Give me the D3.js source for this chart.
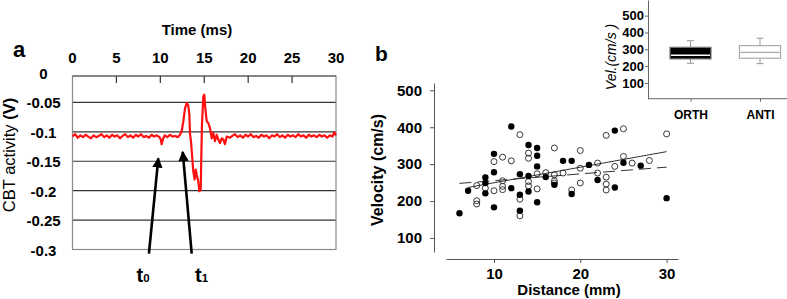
<!DOCTYPE html>
<html><head><meta charset="utf-8">
<script src="https://cdn.jsdelivr.net/npm/d3@7"></script>
<style>body{margin:0;background:#fff;} svg{display:block;font-family:Arial,"Liberation Sans",sans-serif;}</style>
</head><body><svg id="c" width="787" height="299"></svg>
<script>
// ---------- Panel a data ----------
const timeTicks = [0, 5, 10, 15, 20, 25, 30];
const voltTicks = [0, -0.05, -0.1, -0.15, -0.2, -0.25, -0.3];
const voltLabels = ["0", "-0.05", "-0.1", "-0.15", "-0.2", "-0.25", "-0.3"];
const trace = [
 [0.0,-0.108],[0.3,-0.104],[0.6,-0.110],[0.9,-0.106],[1.2,-0.109],[1.5,-0.105],[1.8,-0.108],[2.1,-0.111],
 [2.4,-0.106],[2.7,-0.109],[3.0,-0.107],[3.3,-0.104],[3.6,-0.109],[3.9,-0.106],[4.2,-0.110],[4.5,-0.105],
 [4.8,-0.108],[5.1,-0.106],[5.4,-0.111],[5.7,-0.107],[6.0,-0.104],[6.3,-0.109],[6.6,-0.106],[6.9,-0.110],
 [7.2,-0.105],[7.5,-0.108],[7.8,-0.104],[8.1,-0.109],[8.4,-0.107],[8.7,-0.110],[9.0,-0.105],[9.3,-0.108],
 [9.6,-0.106],[9.9,-0.109],[10.05,-0.113],[10.15,-0.121],[10.3,-0.112],[10.5,-0.106],[10.8,-0.109],
 [11.1,-0.105],[11.4,-0.108],[11.7,-0.107],[12.0,-0.109],[12.24,-0.105],[12.43,-0.099],[12.62,-0.082],
 [12.81,-0.060],[13.0,-0.051],[13.18,-0.055],[13.30,-0.070],[13.38,-0.104],[13.49,-0.116],[13.64,-0.145],
 [13.75,-0.167],[13.91,-0.181],[14.03,-0.164],[14.14,-0.173],[14.32,-0.184],[14.44,-0.201],[14.6,-0.198],
 [14.66,-0.145],[14.74,-0.088],[14.89,-0.040],[15.01,-0.037],[15.12,-0.060],[15.28,-0.082],[15.46,-0.085],
 [15.66,-0.094],[15.85,-0.111],[16.03,-0.102],[16.22,-0.116],[16.42,-0.105],[16.6,-0.113],[16.79,-0.119],
 [16.99,-0.111],[17.17,-0.113],[17.35,-0.121],[17.56,-0.108],[17.93,-0.110],[18.2,-0.107],[18.5,-0.104],
 [18.8,-0.109],[19.1,-0.106],[19.4,-0.110],[19.7,-0.105],[20.0,-0.108],[20.3,-0.104],[20.6,-0.109],
 [20.9,-0.107],[21.2,-0.110],[21.5,-0.105],[21.8,-0.108],[22.1,-0.106],[22.4,-0.111],[22.7,-0.106],
 [23.0,-0.108],[23.3,-0.104],[23.6,-0.109],[23.9,-0.106],[24.2,-0.110],[24.5,-0.105],[24.8,-0.108],
 [25.1,-0.106],[25.4,-0.109],[25.7,-0.104],[26.0,-0.108],[26.3,-0.106],[26.6,-0.110],[26.9,-0.105],
 [27.2,-0.108],[27.5,-0.106],[27.8,-0.109],[28.1,-0.105],[28.4,-0.108],[28.7,-0.106],[29.0,-0.110],
 [29.3,-0.106],[29.6,-0.108],[29.8,-0.101],[30.0,-0.106]
];
const arrowT0 = [[8.7, -0.307], [9.77, -0.145]];
const arrowT1 = [[13.57, -0.307], [12.55, -0.134]];

// ---------- Panel b data ----------
const distTicks = [10, 20, 30];
const velTicks = [100, 200, 300, 400, 500];
const filledDist = [6,7,9,9,9,10,10,10,12,12,13,13,13,14,14,14,15,15,15,15,16,17,18,19,19,21,22,24,25,24,27,30];
const filledVel  = [167,228,264,249,221,328,278,183,402,235,273,217,174,352,268,226,344,323,294,197,265,244,309,309,219,298,257,391,304,237,296,208];
const openDist = [8,8,8,9,10,10,11,11,11,11,12,13,13,13,14,14,14,14,15,15,16,17,17,17,17,18,19,20,20,20,22,22,23,23,23,23,24,25,25,26,28,30];
const openVel  = [242,201,192,235,307,228,319,255,240,231,309,380,205,160,330,316,253,241,274,233,277,344,271,255,249,276,230,337,289,249,303,276,378,265,246,230,294,396,321,303,310,382];
const fitSolid  = [[7, 237], [30, 334]];
const fitDashed = [[6, 248], [30, 292]];

// ---------- Inset box plot data ----------
const boxCats = ["ORTH", "ANTI"];
const boxLow  = [217, 215];
const boxQ1   = [243, 247];
const boxMed  = [265, 282];
const boxQ3   = [312, 322];
const boxHigh = [351, 366];
const insetTicks = [100, 200, 300, 400, 500];

const svg = d3.select("#c");

// ================= Panel a =================
const xA = d3.scaleLinear().domain([0, 30]).range([72.5, 336]);
const yA = d3.scaleLinear().domain([0, -0.3]).range([73, 249.5]);
const gA = svg.append("g");
const boxTop = 76;

gA.selectAll("line.grid").data(voltTicks.filter(v => v < 0 && v > -0.3)).join("line")
  .attr("x1", xA(0)).attr("x2", xA(30)).attr("y1", d => yA(d)).attr("y2", d => yA(d))
  .attr("stroke", "#333").attr("stroke-width", 1.2);
gA.append("rect").attr("x", xA(0)).attr("y", boxTop).attr("width", xA(30) - xA(0)).attr("height", yA(-0.3) - boxTop)
  .attr("fill", "none").attr("stroke", "#8a8a8a").attr("stroke-width", 1.2);
gA.append("line").attr("x1", xA(0)).attr("x2", xA(30)).attr("y1", boxTop).attr("y2", boxTop).attr("stroke", "#555").attr("stroke-width", 1.2);
gA.selectAll("line.tt").data(timeTicks.filter(t => t > 0 && t < 30)).join("line")
  .attr("x1", d => xA(d)).attr("x2", d => xA(d)).attr("y1", boxTop).attr("y2", boxTop + 7)
  .attr("stroke", "#333").attr("stroke-width", 1.2);
gA.selectAll("text.tl").data(timeTicks).join("text")
  .attr("x", d => xA(d)).attr("y", 63).attr("text-anchor", "middle")
  .attr("font-size", 15).attr("font-weight", "bold").text(d => d);
gA.selectAll("text.vl").data(voltTicks).join("text")
  .attr("x", 43.5).attr("y", d => yA(d) + 6).attr("text-anchor", "middle")
  .attr("font-size", 15).attr("font-weight", "bold").text((d, i) => voltLabels[i]);
gA.append("text").attr("x", 197).attr("y", 35).attr("text-anchor", "middle")
  .attr("font-size", 15).attr("font-weight", "bold").text("Time (ms)");
const yt = gA.append("text").attr("transform", "translate(15,155) rotate(-90)").attr("text-anchor", "middle").attr("font-size", 16.5);
yt.append("tspan").text("CBT activity ");
yt.append("tspan").attr("font-weight", "bold").text("(V)");
gA.append("text").attr("x", 13).attr("y", 57).attr("font-size", 22).attr("font-weight", "bold").text("a");

gA.append("path").datum(trace)
  .attr("d", d3.line().x(d => xA(d[0])).y(d => yA(d[1])))
  .attr("fill", "none").attr("stroke", "#ff1010").attr("stroke-width", 2.2).attr("stroke-linejoin", "round");

const defs = svg.append("defs");
defs.append("marker").attr("id", "ah").attr("viewBox", "0 0 10 10").attr("refX", 9).attr("refY", 5)
  .attr("markerWidth", 4).attr("markerHeight", 5).attr("orient", "auto").attr("markerUnits", "strokeWidth")
  .append("path").attr("d", "M0,0 L10,5 L0,10 z").attr("fill", "#000");
[arrowT0, arrowT1].forEach(a => {
  gA.append("line").attr("x1", xA(a[0][0])).attr("y1", yA(a[0][1])).attr("x2", xA(a[1][0])).attr("y2", yA(a[1][1]))
    .attr("stroke", "#000").attr("stroke-width", 2.6).attr("marker-end", "url(#ah)");
});
[["0", 136.5], ["1", 195]].forEach(([s, x]) => {
  const t = gA.append("text").attr("x", x).attr("y", 282).attr("font-weight", "bold");
  t.append("tspan").attr("font-size", 20).text("t");
  t.append("tspan").attr("font-size", 11.5).text(s);
});

// ================= Panel b =================
const xB = d3.scaleLinear().domain([4.44, 31.32]).range([446, 678]);
const yB = d3.scaleLinear().domain([62, 520]).range([252, 83]);
const gB = svg.append("g");
gB.append("g").attr("transform", "translate(434,0)")
  .call(d3.axisLeft(yB).tickValues(velTicks).tickSize(4).tickSizeOuter(0).tickPadding(8))
  .call(g => { g.selectAll("text").attr("font-size", 15).attr("font-weight", "bold").attr("font-family", "Arial"); g.selectAll("path,line").attr("stroke", "#555"); });
gB.append("g").attr("transform", "translate(0,259)")
  .call(d3.axisBottom(xB).tickValues(distTicks).tickSize(4).tickSizeOuter(0).tickPadding(5))
  .call(g => { g.selectAll("text").attr("font-size", 15).attr("font-weight", "bold").attr("font-family", "Arial"); g.selectAll("path,line").attr("stroke", "#555"); });
gB.append("text").attr("x", 569).attr("y", 295).attr("text-anchor", "middle").attr("font-size", 15).attr("font-weight", "bold").text("Distance (mm)");
gB.append("text").attr("transform", "translate(383,170) rotate(-90)").attr("text-anchor", "middle").attr("font-size", 16).attr("font-weight", "bold").text("Velocity (cm/s)");
gB.append("text").attr("x", 375).attr("y", 61).attr("font-size", 21).attr("font-weight", "bold").text("b");

const ln = d3.line().x(d => xB(d[0])).y(d => yB(d[1]));
gB.append("path").datum(fitSolid).attr("d", ln).attr("stroke", "#333").attr("stroke-width", 1).attr("fill", "none");
gB.append("path").datum(fitDashed).attr("d", ln).attr("stroke", "#333").attr("stroke-width", 1).attr("fill", "none").attr("stroke-dasharray", "12,6");
gB.selectAll("circle.o").data(openDist).join("circle")
  .attr("cx", d => xB(d)).attr("cy", (d, i) => yB(openVel[i])).attr("r", 3)
  .attr("fill", "none").attr("stroke", "#222").attr("stroke-width", 0.9);
gB.selectAll("circle.f").data(filledDist).join("circle")
  .attr("cx", d => xB(d)).attr("cy", (d, i) => yB(filledVel[i])).attr("r", 3.2).attr("fill", "#000");

// ================= Inset =================
const xI = d3.scalePoint().domain(boxCats).range([690.5, 760]);
const yI = d3.scaleLinear().domain([6.7, 593]).range([98.7, 0]);
const gI = svg.append("g");
gI.append("g").attr("transform", "translate(648,0)")
  .call(d3.axisLeft(yI).tickValues(insetTicks).tickSize(3).tickSizeOuter(0).tickPadding(1))
  .call(g => { g.selectAll("text").attr("font-size", 13).attr("font-weight", "bold").attr("font-family", "Arial"); g.selectAll("path,line").attr("stroke", "#666"); });
gI.append("g").attr("transform", "translate(0,98.7)")
  .call(d3.axisBottom(xI).tickSize(3).tickSizeOuter(0).tickPadding(9))
  .call(g => { g.select(".domain").attr("d", "M648,0H787"); g.selectAll("text").attr("font-size", 12).attr("font-weight", "bold").attr("font-family", "Arial"); g.selectAll("path,line").attr("stroke", "#666"); });
gI.append("text").attr("transform", "translate(616,57) rotate(-90)").attr("text-anchor", "middle")
  .attr("font-size", 14).attr("font-style", "italic").text("Vel.(cm/s )");
const bw = 41;
boxCats.forEach((c, i) => {
  const cx = xI(c), dark = i === 0;
  const g = gI.append("g");
  g.append("line").attr("x1", cx).attr("x2", cx).attr("y1", yI(boxHigh[i])).attr("y2", yI(boxQ3[i])).attr("stroke", "#999");
  g.append("line").attr("x1", cx).attr("x2", cx).attr("y1", yI(boxLow[i])).attr("y2", yI(boxQ1[i])).attr("stroke", "#999");
  [boxHigh[i], boxLow[i]].forEach(v => g.append("line").attr("x1", cx - 3.5).attr("x2", cx + 3.5).attr("y1", yI(v)).attr("y2", yI(v)).attr("stroke", "#999"));
  g.append("rect").attr("x", cx - bw / 2).attr("y", yI(boxQ3[i])).attr("width", bw).attr("height", yI(boxQ1[i]) - yI(boxQ3[i]))
    .attr("fill", dark ? "#000" : "#fff").attr("stroke", dark ? "#777" : "#aaa").attr("stroke-width", 1.2);
  g.append("line").attr("x1", cx - bw / 2 + 1).attr("x2", cx + bw / 2 - 1).attr("y1", yI(boxMed[i])).attr("y2", yI(boxMed[i]))
    .attr("stroke", dark ? "#fff" : "#999").attr("stroke-width", dark ? 1.5 : 1);
});
</script></body></html>
